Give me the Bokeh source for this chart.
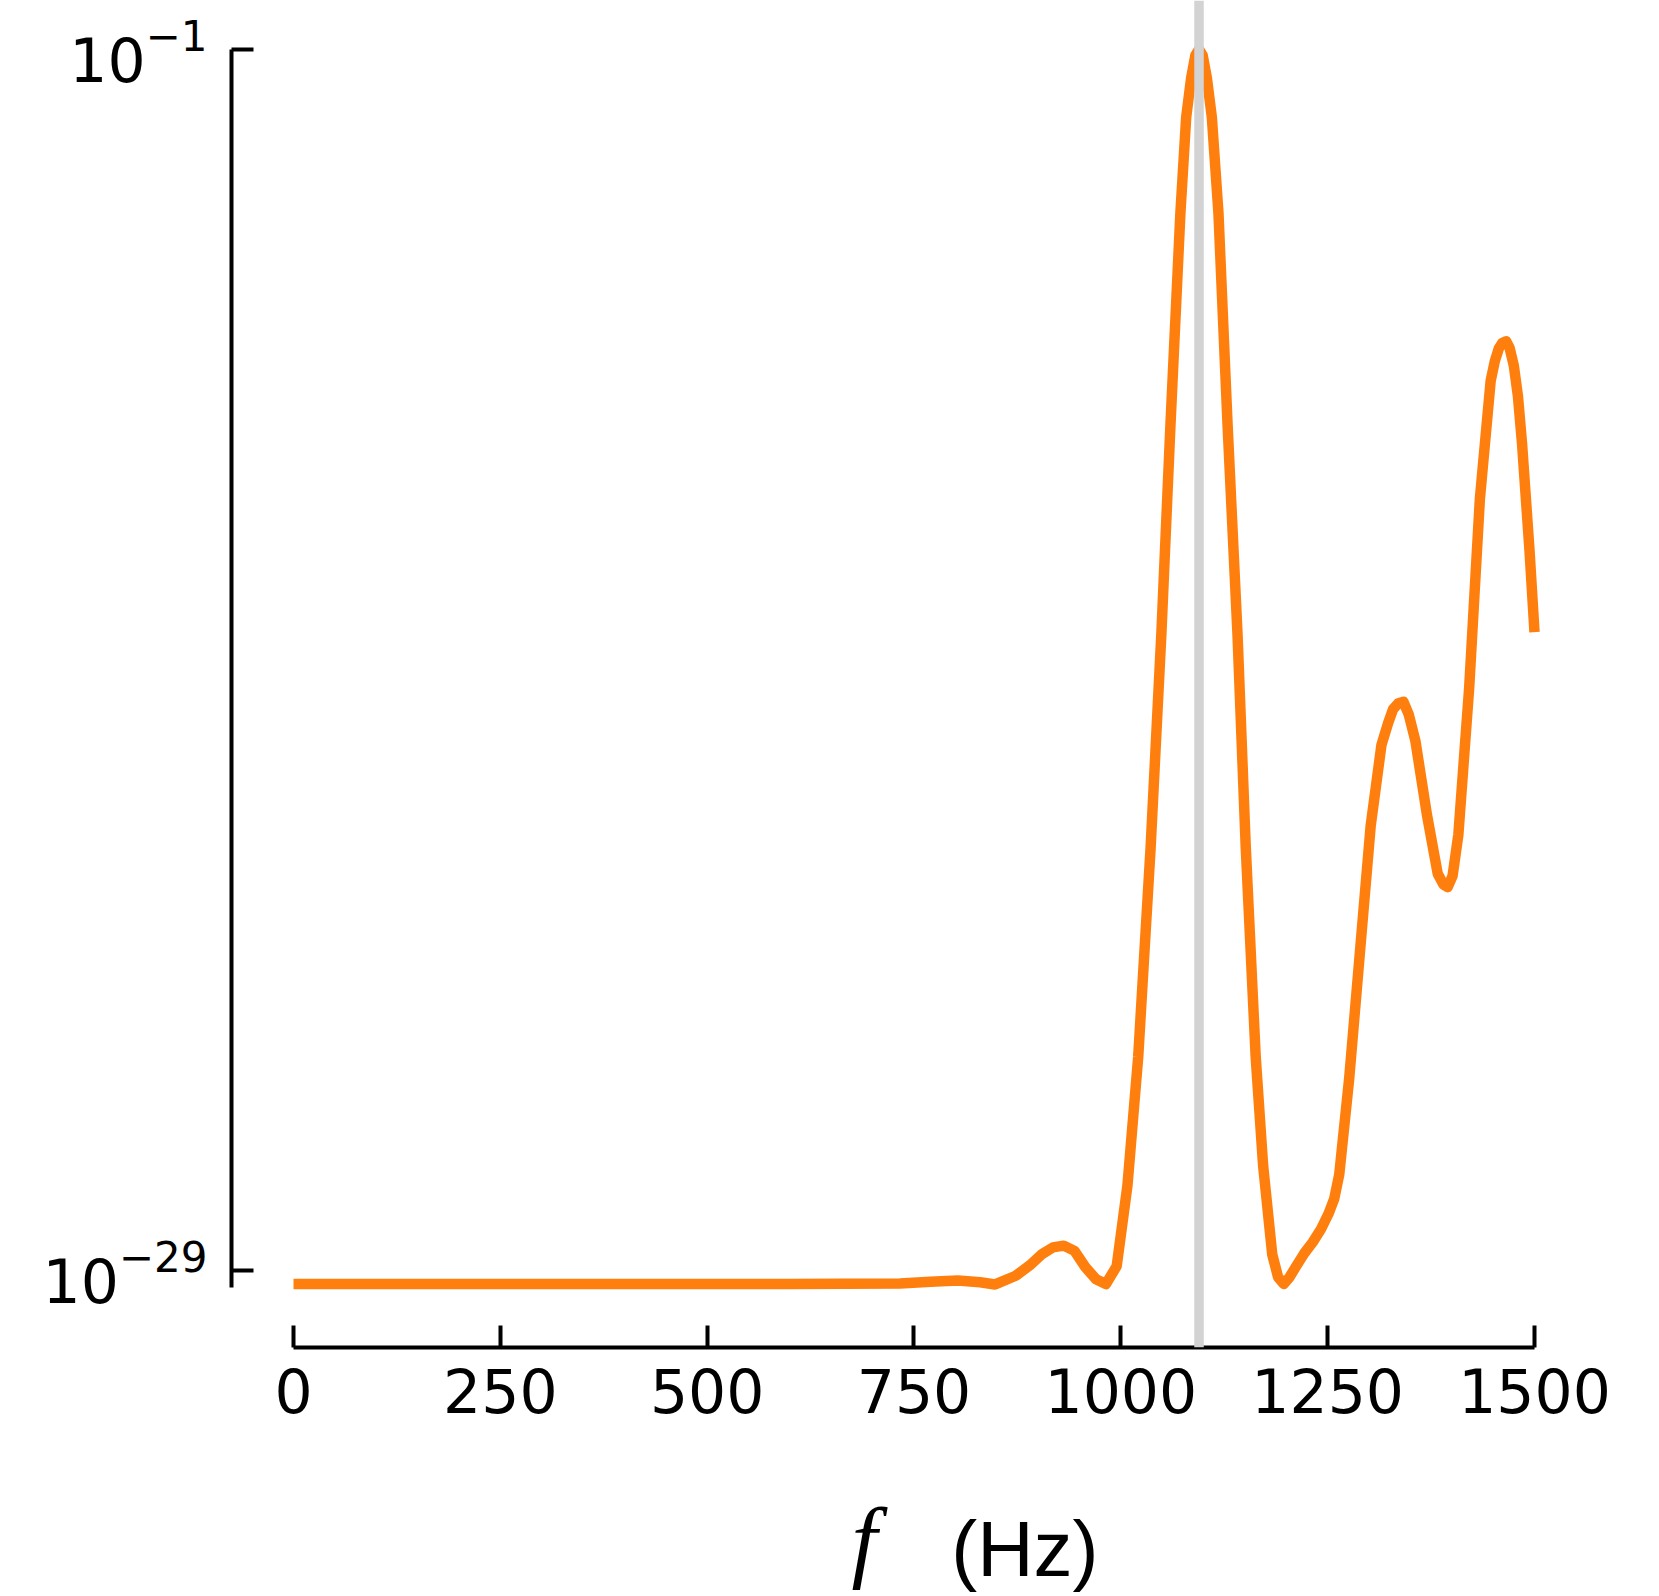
import numpy as np
from bokeh.plotting import figure
from bokeh.layouts import column
from bokeh.models import Range1d, FixedTicker, Span, ColumnDataSource
from bokeh.core.properties import value
from bokeh.embed import file_html
from bokeh.resources import INLINE

# frequency (Hz) and log10 of the spectrum value
freq = [0, 200, 400, 600, 733, 770, 803, 830, 848, 873, 890, 905, 918, 931, 944, 957,
        970, 982, 995, 1008, 1021, 1036, 1049, 1060, 1072, 1079, 1085, 1090, 1094.5,
        1099, 1104, 1110, 1118, 1129, 1141, 1151, 1163, 1172, 1183, 1190, 1197,
        1204, 1212, 1222, 1232, 1242, 1251, 1258, 1264, 1276, 1289, 1302, 1315,
        1323, 1329, 1335, 1341.6, 1348, 1356, 1363, 1370, 1383, 1390, 1395, 1401,
        1408, 1421, 1434, 1447, 1452, 1457, 1461, 1465.7, 1470, 1475, 1480,
        1485, 1494, 1500]
log_amp = [-29.31, -29.31, -29.31, -29.31, -29.30, -29.26, -29.23, -29.27, -29.32,
           -29.12, -28.88, -28.62, -28.47, -28.43, -28.55, -28.92, -29.20, -29.31,
           -28.90, -27.05, -24.10, -19.30, -14.40, -9.60, -4.75, -2.55, -1.65,
           -1.14, -1.00, -1.14, -1.65, -2.55, -4.75, -9.60, -14.40, -19.30, -24.10,
           -26.60, -28.63, -29.15, -29.31, -29.15, -28.90, -28.60, -28.35, -28.05,
           -27.70, -27.35, -26.80, -24.60, -21.70, -18.80, -16.95, -16.45, -16.13,
           -16.00, -15.96, -16.25, -16.85, -17.70, -18.55, -19.90, -20.15, -20.21,
           -19.95, -19.00, -15.65, -11.30, -8.60, -8.15, -7.85, -7.73, -7.69,
           -7.85, -8.25, -8.95, -10.05, -12.50, -14.36]

x_ticks = [0, 250, 500, 750, 1000, 1250, 1500]
y_ticks = [1e-29, 1e-1]
marker_freq = 1094.5
xlabel_var = "f"
xlabel_unit = "(Hz)"

amp = [10.0 ** v for v in log_amp]
src = ColumnDataSource(dict(f=freq, a=amp))

H_MAIN = 1460
x_rng = Range1d(-74.94, 1519.34)

p = figure(width=1659, height=H_MAIN, y_axis_type="log",
           x_range=x_rng,
           y_range=Range1d(10 ** -30.766, 10 ** 0.1237),
           output_backend="svg", toolbar_location=None,
           min_border_left=231, min_border_right=109,
           min_border_top=0, min_border_bottom=H_MAIN - 1347)
p.outline_line_color = None
p.grid.visible = False
p.background_fill_color = "white"
p.border_fill_color = "white"

p.line("f", "a", source=src, line_color="#ff7f0e", line_width=10.5,
       line_join="round")

p.add_layout(Span(location=marker_freq, dimension="height",
                  line_color="#d3d3d3", line_width=9.5))

for ax in (p.xaxis[0], p.yaxis[0]):
    ax.axis_line_width = 4
    ax.axis_line_color = "black"
    ax.major_tick_line_width = 4
    ax.major_tick_line_color = "black"
    ax.major_tick_in = 22
    ax.major_tick_out = 0
    ax.minor_tick_line_color = None
    ax.major_label_text_font = "DejaVu Sans"
    ax.major_label_text_font_size = "60px"
    ax.major_label_text_color = "black"

p.xaxis.ticker = FixedTicker(ticks=x_ticks)
p.xaxis.bounds = (0, 1500)
p.xaxis.major_label_standoff = 20

p.yaxis.ticker = FixedTicker(ticks=y_ticks)
p.yaxis.bounds = (10 ** -29.39, 1e-1)
p.yaxis.major_label_standoff = 24

# strip below the axes carrying the x-axis title
H_LAB = 1596 - H_MAIN
q = figure(width=1659, height=H_LAB, x_range=x_rng, y_range=Range1d(0, H_LAB),
           output_backend="svg", toolbar_location=None,
           x_axis_location=None, y_axis_location=None,
           min_border_left=231, min_border_right=109,
           min_border_top=0, min_border_bottom=0)
q.outline_line_color = None
q.grid.visible = False
q.background_fill_color = "white"
q.border_fill_color = "white"

q.text(x=[690], y=[57], text=[xlabel_var], text_font=value("Liberation Serif"),
       text_font_style="italic", text_font_size="92px", text_color="black",
       text_align="center", text_baseline="alphabetic")
q.text(x=[795], y=[48], text=[xlabel_unit], text_font=value("Liberation Sans"),
       text_font_size="78px", text_color="black",
       text_align="left", text_baseline="alphabetic")

layout = column(p, q, spacing=0)
open("out.html", "w").write(file_html(layout, INLINE))
